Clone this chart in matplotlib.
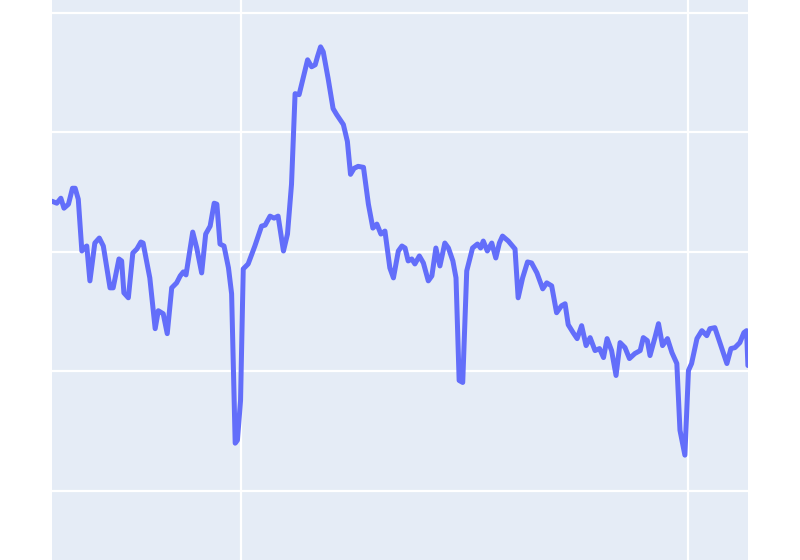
import numpy as np
import matplotlib
matplotlib.use("Agg")
import matplotlib.pyplot as plt

# Decimal year and series value
years = [
    1995.77, 1995.88, 1995.97, 1996.04, 1996.14, 1996.23, 1996.29, 1996.36, 1996.44, 1996.49,
    1996.55, 1996.62, 1996.73, 1996.83, 1996.92, 1997.07, 1997.14, 1997.27, 1997.33, 1997.38,
    1997.48, 1997.58, 1997.67, 1997.76, 1997.81, 1997.96, 1998.08, 1998.15, 1998.26, 1998.35,
    1998.45, 1998.56, 1998.64, 1998.71, 1998.77, 1998.92, 1999.01, 1999.12, 1999.21, 1999.31,
    1999.40, 1999.46, 1999.53, 1999.62, 1999.72, 1999.79, 1999.87, 1999.92, 1999.99, 2000.05,
    2000.16, 2000.31, 2000.46, 2000.54, 2000.65, 2000.74, 2000.83, 2000.95, 2001.04, 2001.13,
    2001.21, 2001.30, 2001.41, 2001.49, 2001.58, 2001.66, 2001.71, 2001.78, 2001.84, 2001.95,
    2002.06, 2002.14, 2002.29, 2002.38, 2002.45, 2002.53, 2002.62, 2002.74, 2002.85, 2002.95,
    2003.04, 2003.13, 2003.22, 2003.33, 2003.41, 2003.52, 2003.60, 2003.67, 2003.74, 2003.82,
    2003.89, 2003.99, 2004.08, 2004.19, 2004.27, 2004.36, 2004.45, 2004.56, 2004.64, 2004.74,
    2004.81, 2004.88, 2004.96, 2005.05, 2005.18, 2005.29, 2005.36, 2005.42, 2005.51, 2005.61,
    2005.70, 2005.78, 2005.85, 2005.98, 2006.13, 2006.20, 2006.30, 2006.41, 2006.50, 2006.62,
    2006.75, 2006.84, 2006.95, 2007.06, 2007.17, 2007.25, 2007.32, 2007.43, 2007.52, 2007.62,
    2007.72, 2007.81, 2007.92, 2008.02, 2008.11, 2008.19, 2008.29, 2008.39, 2008.48, 2008.59,
    2008.69, 2008.81, 2008.93, 2009.00, 2009.09, 2009.15, 2009.26, 2009.34, 2009.43, 2009.54,
    2009.64, 2009.75, 2009.82, 2009.93, 2010.01, 2010.08, 2010.20, 2010.31, 2010.42, 2010.49,
    2010.60, 2010.72, 2010.87, 2010.96, 2011.05, 2011.16, 2011.25, 2011.31, 2011.34,
]
values = [
    291, 289, 294, 284, 288, 304, 304, 293, 241, 244,
    246, 211, 249, 254, 246, 204, 204, 233, 231, 199,
    194, 239, 243, 250, 249, 214, 163, 181, 178, 158,
    204, 209, 216, 220, 217, 260, 244, 219, 258, 266,
    289, 288, 248, 246, 224, 198, 48, 51, 91, 223,
    228, 246, 266, 267, 276, 274, 276, 241, 258, 308,
    399, 398, 418, 433, 426, 428, 436, 446, 441, 414,
    384, 378, 368, 351, 318, 324, 326, 325, 288, 264,
    268, 258, 261, 224, 214, 241, 246, 244, 231, 233,
    228, 236, 229, 211, 216, 244, 226, 249, 244, 231,
    214, 111, 109, 221, 244, 248, 244, 251, 241, 249,
    234, 249, 256, 251, 243, 194, 214, 230, 229, 219,
    203, 209, 206, 179, 186, 188, 167, 159, 153, 166,
    146, 154, 141, 143, 134, 153, 141, 116, 149, 144,
    133, 138, 141, 154, 151, 136, 154, 168, 146, 153,
    139, 128, 61, 36, 121, 128, 153, 161, 156, 163,
    164, 148, 128, 143, 144, 149, 159, 161, 126,
]

x_grid = [2000, 2010]
y_grid = [0, 120, 240, 360, 480]

fig = plt.figure(figsize=(8, 5.6), dpi=100)
fig.patch.set_facecolor("white")
ax = fig.add_axes([0.065, 0.0, 0.87, 1.0])
ax.set_facecolor("#E5ECF6")

ax.plot(years, values, color="#636EFA", linewidth=3.6,
        solid_joinstyle="round", solid_capstyle="round", zorder=3)

ax.set_xlim(1995.772, 2011.342)
ax.set_ylim(-69.3, 493.05)
ax.set_xticks(x_grid)
ax.set_yticks(y_grid)
ax.grid(True, color="white", linewidth=1.6, zorder=1)
ax.set_axisbelow(True)
ax.tick_params(length=0, labelbottom=False, labelleft=False)
for s in ax.spines.values():
    s.set_visible(False)

fig.savefig("out.png", dpi=100)
